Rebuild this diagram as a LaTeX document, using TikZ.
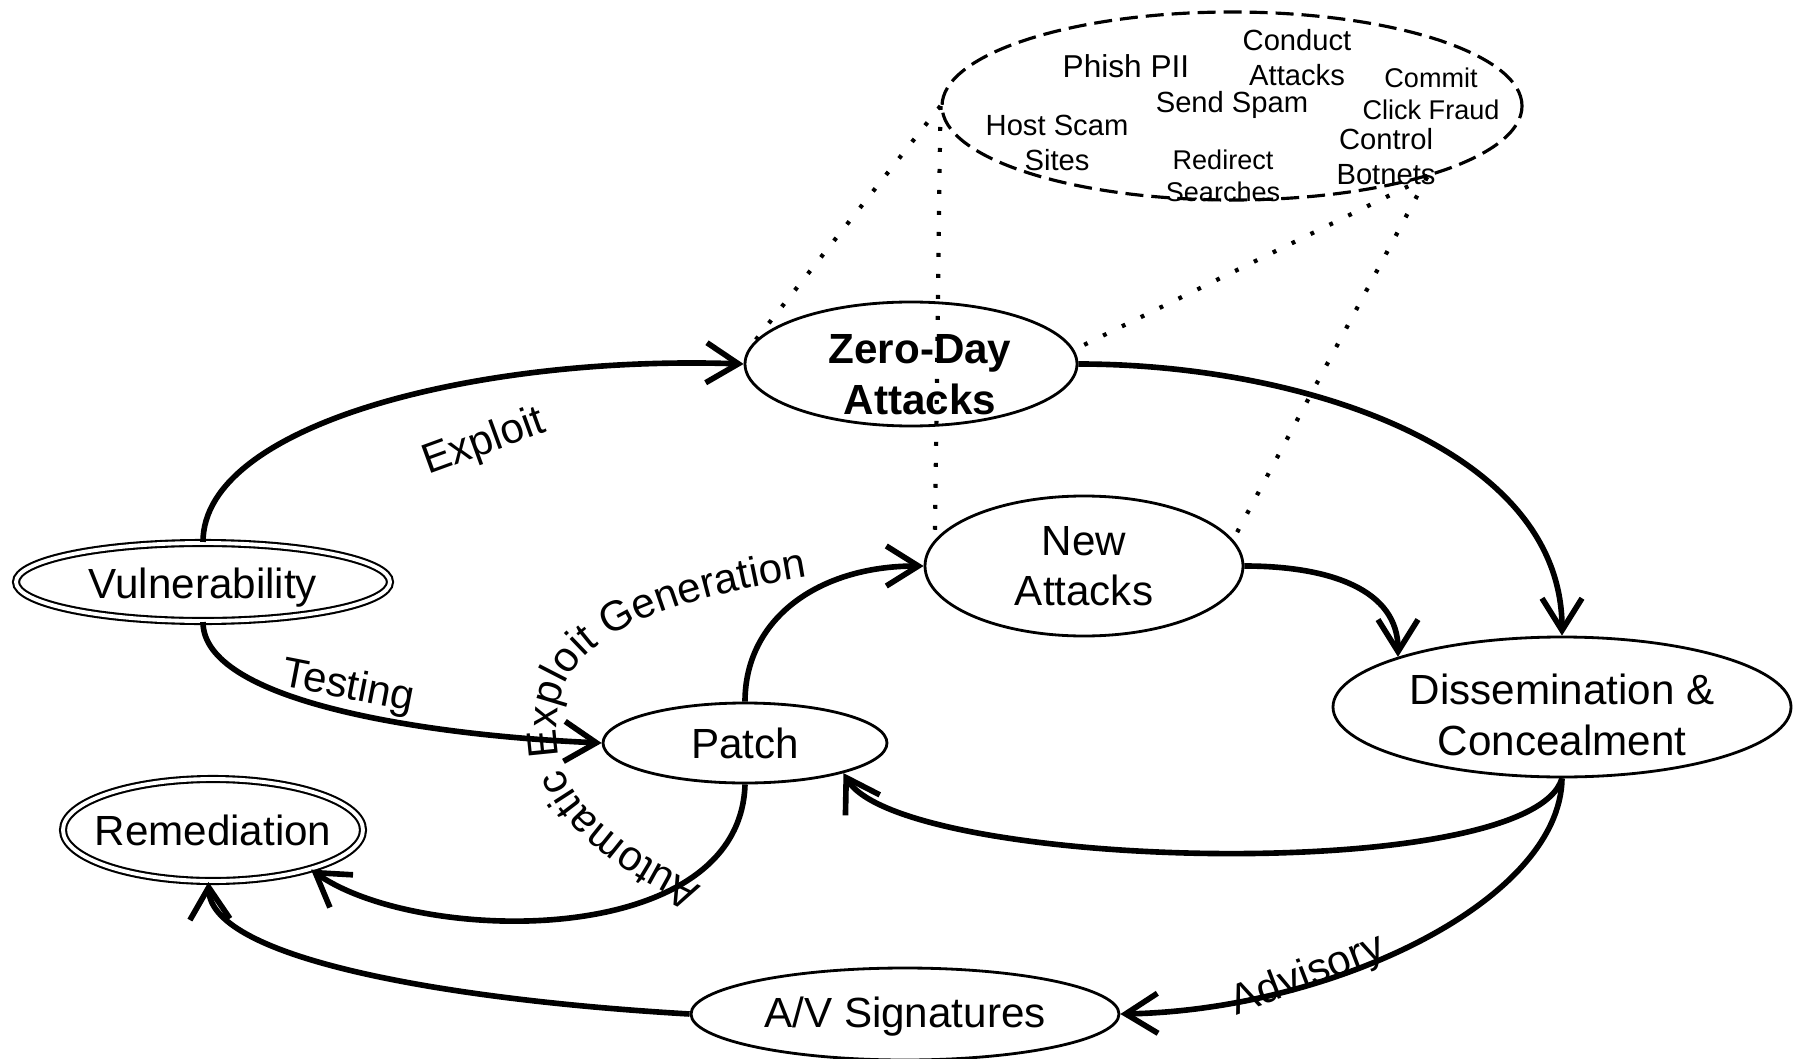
\documentclass[tikz,border=0pt]{standalone}
\usepackage{fontspec}
\setmainfont{Liberation Sans}
\usetikzlibrary{shapes.geometric,arrows.meta,decorations.text}

\newcommand{\bigfs}{\fontsize{12}{14.4}\selectfont}
\newcommand{\actfs}{\fontsize{8.3}{10}\selectfont}
\newcommand{\actsmallfs}{\fontsize{7.7}{9}\selectfont}
% lower a line inside its ellipse, keeping the box size
\newcommand{\low}[2][1mm]{\raisebox{-#1}[\height][\depth]{#2}}

\begin{document}
\begin{tikzpicture}[x=0.1mm, y=-0.1mm,
    stage/.style = {ellipse, draw, fill=white, line width=0.8pt, inner sep=0pt, align=center, font=\bigfs},
    endstage/.style = {stage, double, line width=0.6pt, double distance=1.1pt},
    uses/.style = {ellipse, draw, dash pattern=on 1.8mm off 0.8mm, line width=0.9pt},
    act/.style = {inner sep=0pt, align=center, font=\actfs},
    flow/.style = {line width=1.6pt, -{Straight Barb[length=3.2mm, width=4mm]}},
    proj/.style = {line width=1.2pt, dash pattern=on 0.38mm off 1.72mm},
    lbl/.style = {font=\bigfs, inner sep=0pt}]
\useasboundingbox (0,0) rectangle (1806,1059);

\node[endstage, minimum width=37.4mm, minimum height=7.8mm] (vul) at (203,582) {\low[0.6mm]{Vulnerability}};
\node[endstage, minimum width=30mm, minimum height=10.2mm, inner xsep=-1.3mm] (rem) at (213,830) {Remediation};
\node[stage, minimum width=33.2mm, minimum height=12.4mm, font=\bigfs\bfseries] (zero) at (911,364) {\hspace*{1.8mm}\low[1.1mm]{Zero-Day}\\\hspace*{1.8mm}\low[1.1mm]{Attacks}};
\node[stage, minimum width=31.8mm, minimum height=14mm] (new) at (1084,566) {New\\Attacks};
\node[stage, minimum width=45.8mm, minimum height=14mm] (dis) at (1562,707) {\low[0.8mm]{Dissemination \&}\\\low[0.8mm]{Concealment}};
\node[stage, minimum width=28.4mm, minimum height=8mm] (patch) at (745,743) {Patch};
\node[stage, minimum width=42.8mm, minimum height=9.2mm] (av) at (905,1014) {\low[0.3mm]{A/V Signatures}};

% what the attacks are used for
\node[uses, minimum width=58mm, minimum height=18.8mm] (use) at (1232,106) {};
\node[act, font=\fontsize{9}{11}\selectfont] (phish) at (1126,66) {Phish PII};
\node[act] (conduct) at (1297,58) {Conduct\\Attacks};
\node[act, font=\actsmallfs] (commit) at (1431,94) {Commit\\Click Fraud};
\node[act] (spam) at (1232,105) {Send Spam};
\node[act] (host) at (1057,143) {Host Scam\\Sites};
\node[act, font=\actsmallfs] (redirect) at (1223,176) {Redirect\\Searches};
\node[act] (control) at (1386,157) {Control\\Botnets};

\draw[flow] (vul.north) .. controls +(0,-118) and +(-265,-9) .. (zero.west);
\draw[flow] (vul.south) .. controls +(0,78) and +(-183,-8) .. (patch.west);
\draw[flow] (zero.east) .. controls +(223,0) and +(0,-187) .. (dis.north);
\draw[flow] (patch.north) .. controls +(0,-83) and +(-105,0) .. (new.west);
\draw[flow] (new.east) .. controls +(86,0) and +(0,-67) .. (dis.163);
\draw[flow] (dis.south) .. controls +(-32,108) and +(58,97) .. (patch.-17);
\draw[flow] (dis.south) .. controls +(-2,123) and +(211,-4) .. (av.east);
\draw[flow] (av.west) .. controls +(-241,-14) and +(3,77) .. (rem.-95);
\draw[flow] (patch.south) .. controls +(-5,167) and +(106,75) .. (rem.-22);

\node[lbl, rotate=20] (lexp) at (484,443) {Exploit};
\node[lbl, rotate=-11] (ltest) at (348,688) {Testing};
\node[lbl, rotate=21] (ladv) at (1308,976) {Advisory};
\path[decorate, decoration={text along path, text align=left,
    text={|\bigfs|Automatic Exploit Generation}}]
  (702,886) .. controls (630,852) and (572,810) .. (560,760)
  .. controls (543,670) and (585,615) .. (800,578) -- (900,560);

\draw[proj] (use.west) -- (zero.175);
\draw[proj] (use.west) -- (new.170);
\draw[proj] (use.-20) -- (zero.5);
\draw[proj] (use.-20) -- (new.10);
\end{tikzpicture}
\end{document}
